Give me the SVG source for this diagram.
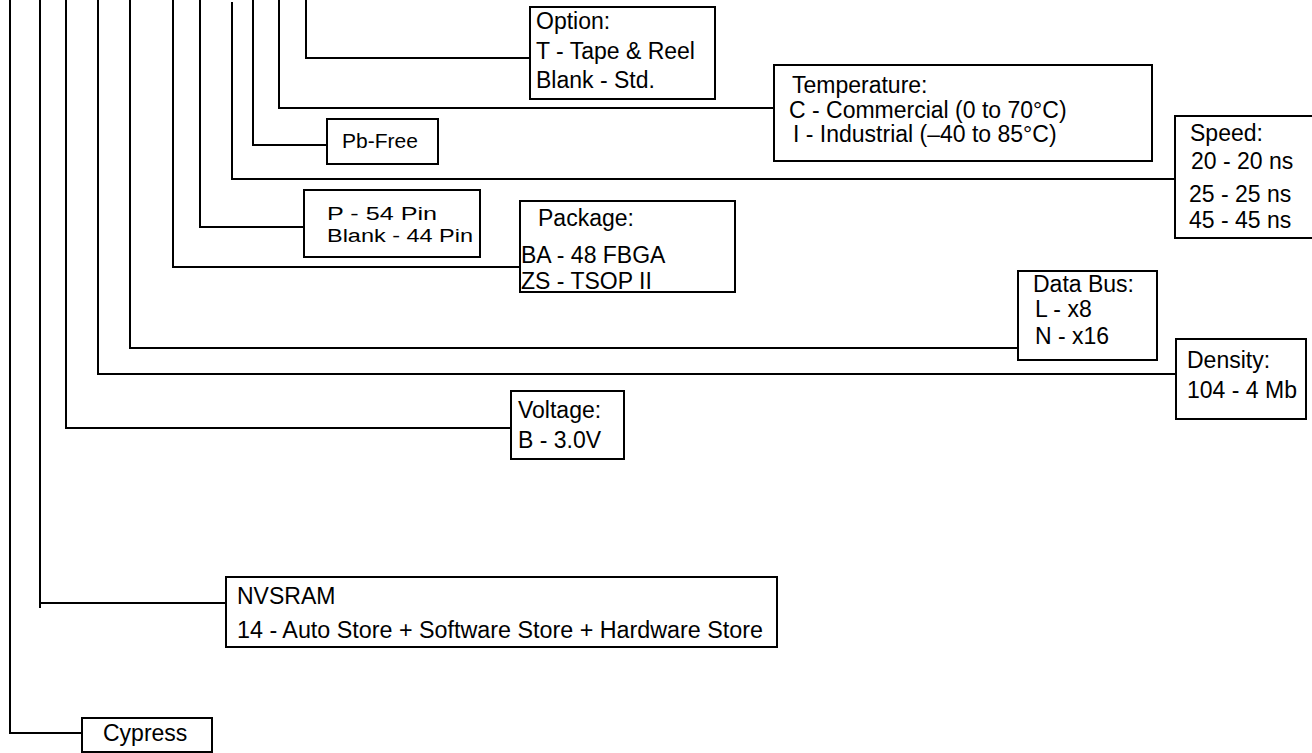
<svg xmlns="http://www.w3.org/2000/svg" width="1312" height="753" viewBox="0 0 1312 753">
<style>
.box{fill:#fff;stroke:#000;stroke-width:2}
.wire{fill:none;stroke:#000;stroke-width:2}
text{font-family:"Liberation Sans",Arial,Helvetica,sans-serif;font-size:23px;fill:#000}
.sm{font-size:18px}
.pb{font-size:21px}
</style>
<rect x="0" y="0" width="1312" height="753" fill="#fff"/>
<g id="connectors">
<path class="wire" d="M10,0 V733 H82"/>
<path class="wire" d="M40,0 V608 M40,603 H226"/>
<path class="wire" d="M66,0 V428 H511"/>
<path class="wire" d="M98,0 V374 H1176"/>
<path class="wire" d="M130,0 V348 H1018"/>
<path class="wire" d="M173,0 V267 H520"/>
<path class="wire" d="M200,0 V227 H304"/>
<path class="wire" d="M232,2 V179 H1175"/>
<path class="wire" d="M253,0 V145 H327"/>
<path class="wire" d="M279,0 V108 H774"/>
<path class="wire" d="M306,0 V58 H530"/>
</g>
<g id="option">
<rect class="box" x="530" y="7" width="185" height="92"/>
<text x="536" y="29">Option:</text>
<text x="536" y="59">T - Tape &amp; Reel</text>
<text x="536" y="88">Blank - Std.</text>
</g>
<g id="temperature">
<rect class="box" x="774" y="65" width="378" height="96"/>
<text x="792" y="93">Temperature:</text>
<text x="789" y="118">C - Commercial (0 to 70°C)</text>
<text x="793" y="142">I - Industrial (–40 to 85°C)</text>
</g>
<g id="pbfree">
<rect class="box" x="327" y="119" width="111" height="45"/>
<text class="pb" x="342" y="148">Pb-Free</text>
</g>
<g id="speed">
<rect class="box" x="1175" y="116" width="150" height="122"/>
<text x="1190" y="141">Speed:</text>
<text x="1191" y="169">20 - 20 ns</text>
<text x="1189" y="202">25 - 25 ns</text>
<text x="1189" y="228">45 - 45 ns</text>
</g>
<g id="pins">
<rect class="box" x="304" y="190" width="176" height="67"/>
<text class="sm" x="327" y="220" textLength="110" lengthAdjust="spacingAndGlyphs">P - 54 Pin</text>
<text class="sm" x="327" y="242" textLength="146" lengthAdjust="spacingAndGlyphs">Blank - 44 Pin</text>
</g>
<g id="package">
<rect class="box" x="520" y="201" width="215" height="91"/>
<text x="538" y="226">Package:</text>
<text x="521" y="263">BA - 48 FBGA</text>
<text x="521" y="289">ZS - TSOP II</text>
</g>
<g id="databus">
<rect class="box" x="1018" y="271" width="139" height="89"/>
<text x="1033" y="292">Data Bus:</text>
<text x="1035" y="317">L - x8</text>
<text x="1035" y="344">N - x16</text>
</g>
<g id="density">
<rect class="box" x="1176" y="339" width="130" height="80"/>
<text x="1187" y="368">Density:</text>
<text x="1187" y="398">104 - 4 Mb</text>
</g>
<g id="voltage">
<rect class="box" x="511" y="391" width="113" height="68"/>
<text x="518" y="418">Voltage:</text>
<text x="518" y="448">B - 3.0V</text>
</g>
<g id="nvsram">
<rect class="box" x="226" y="577" width="551" height="70"/>
<text x="237" y="604">NVSRAM</text>
<text x="237" y="638" textLength="526" lengthAdjust="spacingAndGlyphs">14 - Auto Store + Software Store + Hardware Store</text>
</g>
<g id="cypress">
<rect class="box" x="82" y="718" width="130" height="34"/>
<text x="103" y="741">Cypress</text>
</g>
</svg>
